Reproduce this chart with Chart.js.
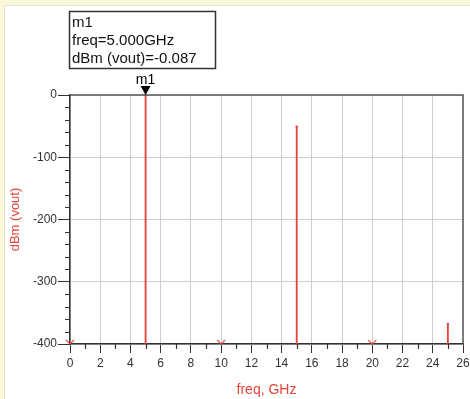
<!DOCTYPE html>
<html>
<head>
<meta charset="utf-8">
<script src="https://cdn.jsdelivr.net/npm/chart.js@4.4.1/dist/chart.umd.min.js"></script>
<style>
  html, body { margin: 0; padding: 0; background: #fff; }
  #wrap { width: 470px; height: 399px; position: relative; }
</style>
</head>
<body>
<div id="wrap"><canvas id="chart-spectrum"></canvas></div>
<script>
// Spectrum data (freq in GHz, power in dBm)
const FREQS = [0, 5, 10, 15, 20, 25];
const DBM = [-450, -0.087, -450, -51, -450, -368];
const X_TICKS = [0, 2, 4, 6, 8, 10, 12, 14, 16, 18, 20, 22, 24, 26];
const Y_TICKS = [-400, -300, -200, -100, 0];
const MARKER = { name: "m1", freq: 5, value: -0.087 };

const RED = "#e6463a";
const FONT = "'Liberation Sans', Arial, sans-serif";
const Y_MIN = Y_TICKS[0];
const Y_MAX = Y_TICKS[Y_TICKS.length - 1];

// small "v" used by ADS for points below the axis range
const offMark = document.createElement("canvas");
offMark.width = 10;
offMark.height = 10;
(() => {
  const c = offMark.getContext("2d");
  c.strokeStyle = RED;
  c.lineWidth = 1.1;
  c.beginPath();
  c.moveTo(1, 1);
  c.lineTo(5, 5);
  c.lineTo(9, 1);
  c.stroke();
})();

const stems = [];
const tips = [];
const offScale = [];
FREQS.forEach((f, i) => {
  if (DBM[i] >= Y_MIN) {
    stems.push({ x: f, y: [Y_MIN, DBM[i]] });
    tips.push({ x: f, y: DBM[i] });
  } else {
    offScale.push({ x: f, y: Y_MIN });
  }
});

const adsFrame = {
  id: "adsFrame",
  beforeDraw(chart) {
    const { ctx, width, height } = chart;
    ctx.save();
    ctx.fillStyle = "#fff";
    ctx.fillRect(0, 0, width, height);
    ctx.fillStyle = "#fbf7da";
    ctx.fillRect(0, 0, width, 6);
    ctx.fillRect(0, 0, 4, height);
    ctx.fillStyle = "#e9e3bf";
    ctx.fillRect(4, 6, 1, height);
    ctx.fillRect(4, 5, width, 1);
    ctx.restore();
  },
  afterDraw(chart) {
    const { ctx, chartArea: a, scales } = chart;
    const x = scales.x;
    const y = scales.y;
    ctx.save();

    // top and right frame
    ctx.strokeStyle = "#555b5b";
    ctx.lineWidth = 1.5;
    ctx.beginPath();
    ctx.moveTo(a.left, a.top);
    ctx.lineTo(a.right, a.top);
    ctx.lineTo(a.right, a.bottom);
    ctx.stroke();

    // minor ticks
    ctx.strokeStyle = "#333";
    ctx.lineWidth = 1.2;
    ctx.beginPath();
    for (let v = X_TICKS[0] + 1; v < X_TICKS[X_TICKS.length - 1]; v += 2) {
      const px = Math.round(x.getPixelForValue(v)) + 0.5;
      ctx.moveTo(px, a.bottom);
      ctx.lineTo(px, a.bottom + 5);
    }
    for (let v = Y_MIN + 20; v < Y_MAX; v += 20) {
      if (v % 100 === 0) continue;
      const py = Math.round(y.getPixelForValue(v)) + 0.5;
      ctx.moveTo(a.left, py);
      ctx.lineTo(a.left - 5, py);
    }
    ctx.stroke();

    // marker triangle + name
    const mx = x.getPixelForValue(MARKER.freq);
    const my = y.getPixelForValue(MARKER.value);
    ctx.fillStyle = "#000";
    ctx.beginPath();
    ctx.moveTo(mx, my);
    ctx.lineTo(mx - 5, my - 9);
    ctx.lineTo(mx + 5, my - 9);
    ctx.closePath();
    ctx.fill();
    ctx.font = "14px " + FONT;
    ctx.textAlign = "center";
    ctx.textBaseline = "alphabetic";
    ctx.fillText(MARKER.name, mx, my - 11);

    // readout box
    ctx.strokeStyle = "#333";
    ctx.lineWidth = 1.5;
    ctx.strokeRect(69.5, 11.5, 146, 57);
    ctx.textAlign = "left";
    ctx.font = "15px " + FONT;
    ctx.fillStyle = "#111";
    ctx.fillText(MARKER.name, 72, 27);
    ctx.fillText("freq=" + MARKER.freq.toFixed(3) + "GHz", 72, 45);
    ctx.fillText("dBm (vout)=" + MARKER.value.toFixed(3), 72, 63);
    ctx.restore();
  },
};

const CONFIG = {
  type: "bar",
  data: {
    datasets: [
      {
        label: "stems",
        data: stems,
        backgroundColor: RED,
        borderWidth: 0,
        barThickness: 1.2,
      },
      {
        type: "scatter",
        label: "tips",
        data: tips,
        pointRadius: 1.3,
        pointBackgroundColor: RED,
        pointBorderWidth: 0,
        clip: false,
      },
      {
        type: "scatter",
        label: "off scale",
        data: offScale,
        pointStyle: offMark,
        clip: false,
      },
    ],
  },
  options: {
    responsive: true,
    maintainAspectRatio: false,
    animation: false,
    layout: { padding: { top: 95, left: 0, right: 7, bottom: 0 } },
    plugins: {
      legend: { display: false },
      tooltip: { enabled: false },
    },
    scales: {
      x: {
        type: "linear",
        min: X_TICKS[0],
        max: X_TICKS[X_TICKS.length - 1],
        offset: false,
        afterBuildTicks: (s) => { s.ticks = X_TICKS.map((v) => ({ value: v })); },
        afterFit: (s) => { s.height = 55; s.paddingRight = 0; },
        border: { color: "#333", width: 1.5 },
        grid: {
          offset: false,
          color: "#c9d1d3",
          lineWidth: 1,
          tickColor: "#333",
          tickLength: 9,
        },
        ticks: {
          color: "#333",
          font: { family: FONT, size: 12 },
          padding: 3,
          maxRotation: 0,
          autoSkip: false,
        },
        title: {
          display: true,
          text: "freq, GHz",
          color: RED,
          font: { family: FONT, size: 14 },
          padding: { top: 0, bottom: 0 },
        },
      },
      y: {
        min: Y_MIN,
        max: Y_MAX,
        afterBuildTicks: (s) => { s.ticks = Y_TICKS.map((v) => ({ value: v })); },
        afterFit: (s) => { s.width = 70; },
        border: { color: "#333", width: 1.5 },
        grid: {
          color: "#c9d1d3",
          lineWidth: 1,
          tickColor: "#333",
          tickLength: 12,
        },
        ticks: {
          color: "#333",
          font: { family: FONT, size: 12 },
          padding: 1,
        },
        title: {
          display: true,
          text: "dBm (vout)",
          color: RED,
          font: { family: FONT, size: 13 },
          padding: { top: 8, bottom: 0 },
        },
      },
    },
  },
  plugins: [adsFrame],
};

new Chart(document.getElementById("chart-spectrum"), CONFIG);
</script>
</body>
</html>
